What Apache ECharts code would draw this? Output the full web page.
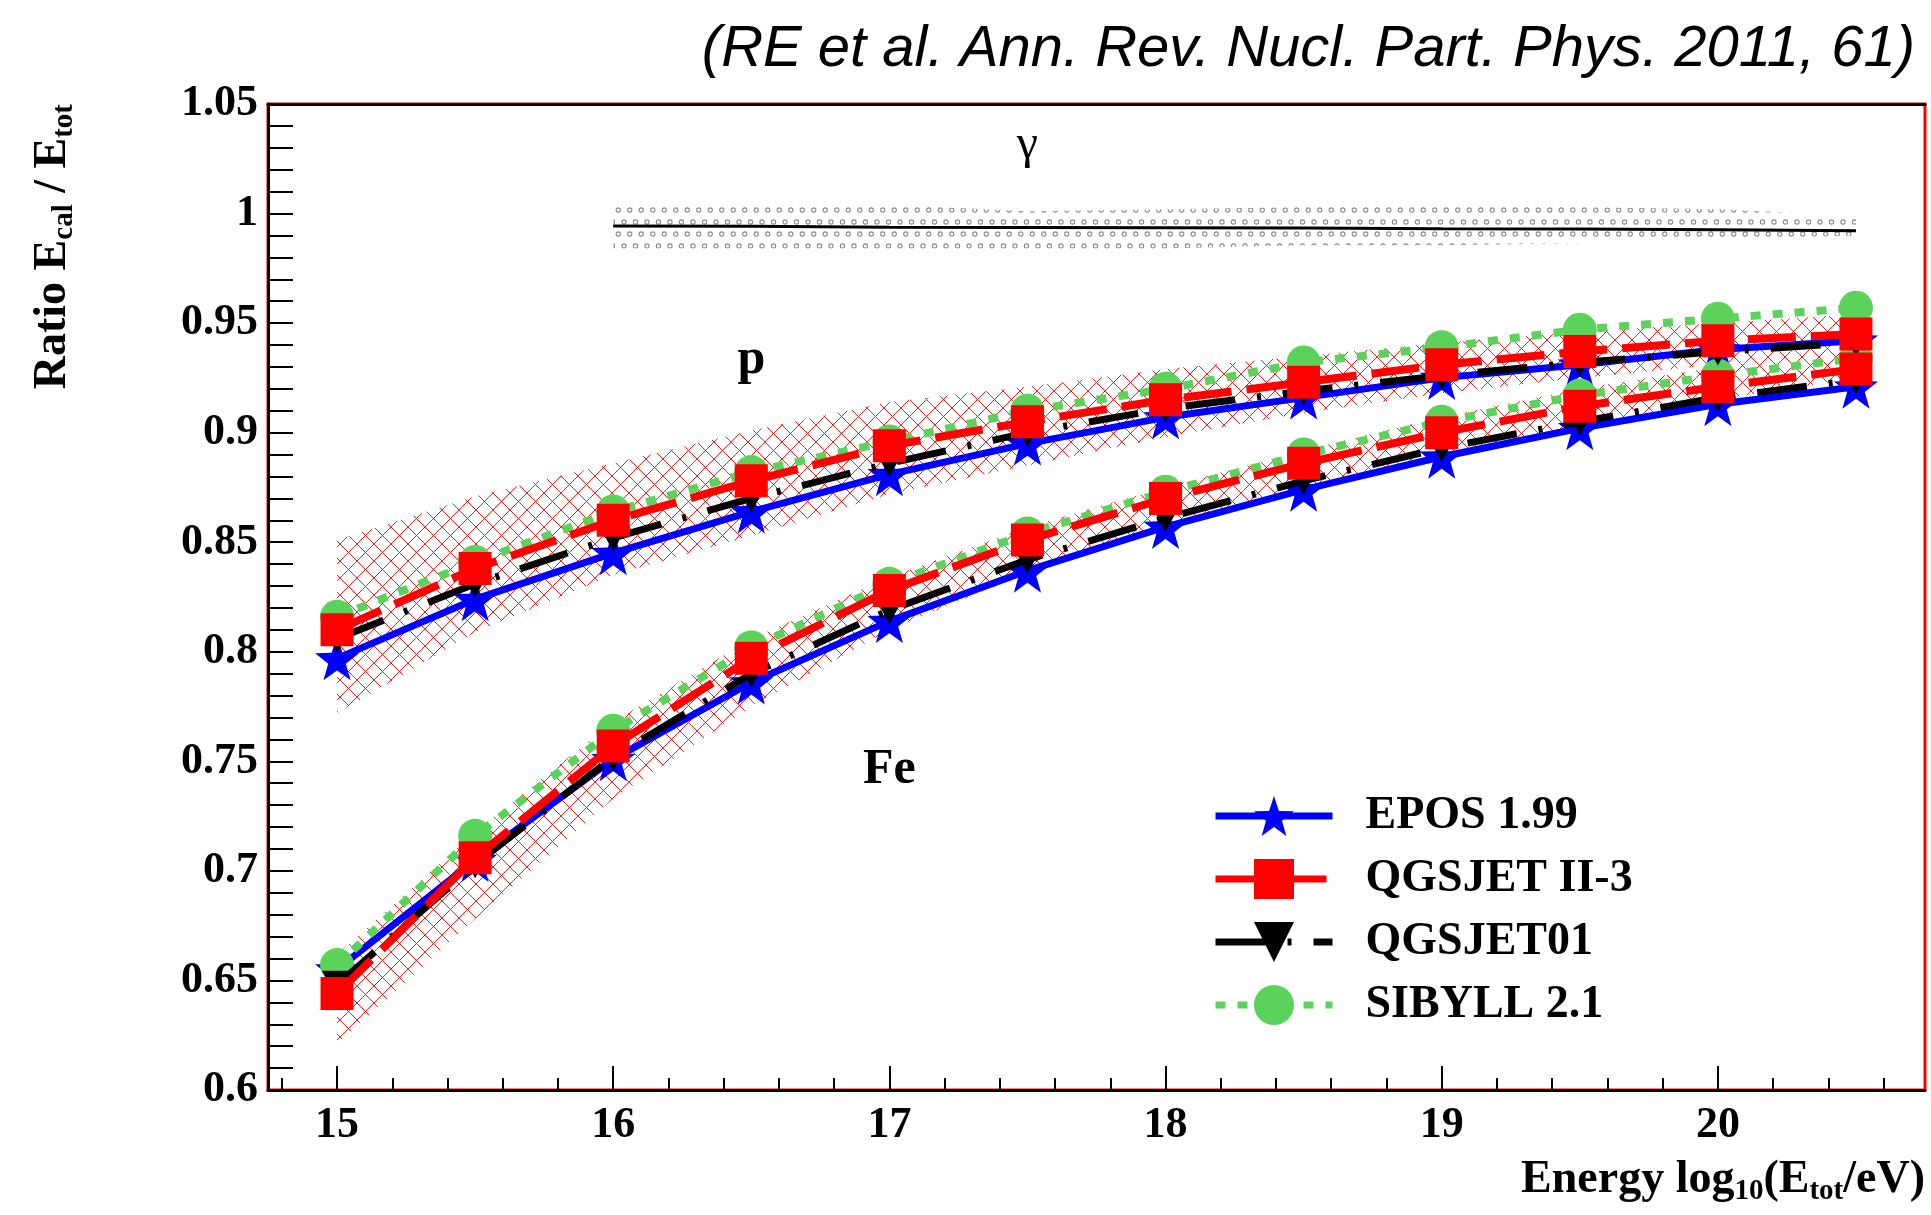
<!DOCTYPE html>
<html><head><meta charset="utf-8">
<script src="https://cdn.jsdelivr.net/npm/echarts@6/dist/echarts.min.js"></script>
<style>html,body{margin:0;padding:0;background:#fff}#c{width:1931px;height:1215px}</style>
</head><body><div id="c"></div>
<script>
// ---------- data ----------
const energy = [15, 15.5, 16, 16.5, 17, 17.5, 18, 18.5, 19, 19.5, 20, 20.5];
const eposP     = [0.797, 0.824, 0.845, 0.864, 0.881, 0.895, 0.907, 0.916, 0.925, 0.931, 0.938, 0.942];
const qgsjet2P  = [0.810, 0.838, 0.860, 0.878, 0.894, 0.905, 0.915, 0.923, 0.931, 0.937, 0.942, 0.945];
const qgsjet01P = [0.806, 0.831, 0.852, 0.870, 0.886, 0.900, 0.911, 0.919, 0.926, 0.932, 0.937, 0.941];
const sibyllP   = [0.816, 0.841, 0.864, 0.882, 0.896, 0.910, 0.920, 0.932, 0.939, 0.947, 0.952, 0.957];
const eposFe     = [0.655, 0.705, 0.751, 0.786, 0.814, 0.837, 0.857, 0.874, 0.889, 0.902, 0.913, 0.921];
const qgsjet2Fe  = [0.644, 0.706, 0.757, 0.797, 0.828, 0.851, 0.870, 0.886, 0.900, 0.912, 0.921, 0.929];
const qgsjet01Fe = [0.648, 0.703, 0.752, 0.790, 0.819, 0.842, 0.861, 0.878, 0.893, 0.905, 0.916, 0.924];
const sibyllFe   = [0.657, 0.716, 0.764, 0.802, 0.831, 0.854, 0.873, 0.890, 0.905, 0.917, 0.926, 0.934];
// hatched uncertainty bands
const pBandHi  = [0.851, 0.871, 0.886, 0.901, 0.914, 0.921, 0.929, 0.935, 0.941, 0.946, 0.950, 0.954];
const pBandLo  = [0.772, 0.809, 0.835, 0.853, 0.872, 0.885, 0.898, 0.909, 0.918, 0.925, 0.931, 0.935];
const feBandHi = [0.662, 0.718, 0.768, 0.806, 0.834, 0.857, 0.875, 0.892, 0.907, 0.920, 0.930, 0.939];
const feBandLo = [0.621, 0.678, 0.733, 0.775, 0.810, 0.836, 0.856, 0.874, 0.890, 0.903, 0.915, 0.925];
// photon
const gammaE    = [16, 16.5, 17, 17.5, 18, 18.5, 19, 19.5, 20, 20.5];
const gammaMean = [0.9943, 0.9942, 0.9937, 0.9936, 0.9935, 0.9934, 0.9931, 0.9930, 0.9926, 0.9922];
const gammaHi   = [1.005, 1.005, 1.004, 1.001, 1.002, 1.003, 1.003, 1.003, 1.002, 0.999];
const gammaLo   = [0.984, 0.984, 0.984, 0.984, 0.984, 0.9855, 0.9855, 0.9865, 0.988, 0.990];
// ticks / labels
const xMajorTicks = [15, 16, 17, 18, 19, 20];
const xMinorTicks = [14.8, 15.2, 15.4, 15.6, 15.8, 16.2, 16.4, 16.6, 16.8, 17.2, 17.4, 17.6, 17.8,
  18.2, 18.4, 18.6, 18.8, 19.2, 19.4, 19.6, 19.8, 20.2, 20.4, 20.6];
const modelNames = ['EPOS 1.99', 'QGSJET II-3', 'QGSJET01', 'SIBYLL 2.1'];
const annotations = [
  { text: 'γ', x: 17.5, y: 1.031, bold: false },
  { text: 'p', x: 16.5, y: 0.933, bold: true },
  { text: 'Fe', x: 17.0, y: 0.746, bold: true }
];
const titleText = '(RE et al. Ann. Rev. Nucl. Part. Phys. 2011, 61)';

// ---------- styles ----------
const SERIF = "'Liberation Serif','Times New Roman',serif";
const SANS = "'Liberation Sans',Arial,sans-serif";
const BLUE = '#0000ff', RED = '#ff0000', BLACK = '#000000', GREEN = '#5bd35b';
const STAR = 'path://M0,-10 L2.35,-3.24 L9.51,-3.09 L3.80,1.24 L5.88,8.09 L0,4 L-5.88,8.09 L-3.80,1.24 L-9.51,-3.09 L-2.35,-3.24 Z';

function hatchPattern() {
  const s = 17, c = document.createElement('canvas');
  c.width = s; c.height = s;
  const g = c.getContext('2d');
  g.strokeStyle = RED; g.lineWidth = 0.9;
  g.beginPath(); g.moveTo(0, 0); g.lineTo(s, s); g.moveTo(s, 0); g.lineTo(0, s); g.stroke();
  return c;
}
function dotPattern() {
  const w = 11.5, h = 24, c = document.createElement('canvas');
  c.width = Math.round(w * 2); c.height = h;
  const g = c.getContext('2d');
  g.strokeStyle = '#8a8a8a'; g.lineWidth = 1.1;
  const pts = [[3, 6], [3 + w, 6], [3 + w / 2, 18], [3 + 1.5 * w, 18]];
  pts.forEach(p => { g.beginPath(); g.arc(p[0], p[1], 2.1, 0, Math.PI * 2); g.stroke(); });
  return c;
}

function pairs(xs, ys) { return xs.map((x, i) => [x, ys[i]]); }

function bandSeries(xs, lo, hi, fill, z) {
  return {
    type: 'custom', silent: true, z: z, clip: true,
    data: xs.map((x, i) => [x, lo[i], hi[i]]),
    renderItem: function (params, api) {
      if (params.dataIndex !== 0) return null;
      const pts = [];
      for (let i = 0; i < xs.length; i++) pts.push(api.coord([xs[i], hi[i]]));
      for (let i = xs.length - 1; i >= 0; i--) pts.push(api.coord([xs[i], lo[i]]));
      return { type: 'polygon', shape: { points: pts }, style: { fill: fill, stroke: null } };
    }
  };
}

function modelSeries(name, ys, color, symbol, size, rotate, lineType, width, z) {
  return {
    name: name, type: 'line', z: z, data: pairs(energy, ys),
    symbol: symbol, symbolSize: size, symbolRotate: rotate, showAllSymbol: true,
    itemStyle: { color: color, borderWidth: 0 },
    lineStyle: { color: color, width: width, type: lineType, cap: 'butt' },
    emphasis: { disabled: true }, animation: false
  };
}

const hatchFill = { image: hatchPattern(), repeat: 'repeat' };
const dotFill = { image: dotPattern(), repeat: 'repeat' };

const series = [
  bandSeries(gammaE, gammaLo, gammaHi, dotFill, 1),
  bandSeries(energy, pBandLo, pBandHi, hatchFill, 1),
  bandSeries(energy, feBandLo, feBandHi, hatchFill, 1),
  {
    type: 'line', z: 2, data: pairs(gammaE, gammaMean), symbol: 'none',
    lineStyle: { color: BLACK, width: 3 }, silent: true, animation: false
  },
  modelSeries(modelNames[0], eposP, BLUE, STAR, 44, 0, 'solid', 7, 3),
  modelSeries(modelNames[0], eposFe, BLUE, STAR, 44, 0, 'solid', 7, 3),
  modelSeries(modelNames[3], sibyllP, GREEN, 'circle', 34, 0, [10, 12], 8, 4),
  modelSeries(modelNames[3], sibyllFe, GREEN, 'circle', 34, 0, [10, 12], 8, 4),
  modelSeries(modelNames[2], qgsjet01P, BLACK, 'triangle', [30, 28], 180, [50, 22, 4, 22], 7, 5),
  modelSeries(modelNames[2], qgsjet01Fe, BLACK, 'triangle', [30, 28], 180, [50, 22, 4, 22], 7, 5),
  modelSeries(modelNames[1], qgsjet2P, RED, 'rect', 33, 0, [48, 15], 8, 6),
  modelSeries(modelNames[1], qgsjet2Fe, RED, 'rect', 33, 0, [48, 15], 8, 6),
  {
    type: 'scatter', z: 7, symbolSize: 0, silent: true, animation: false,
    itemStyle: { opacity: 1 },
    data: annotations.map(a => ({
      value: [a.x, a.y],
      label: {
        show: true, position: 'inside', formatter: a.text, opacity: 1,
        fontFamily: SERIF, fontSize: a.bold ? 50 : 48, fontWeight: a.bold ? 'bold' : 'normal', color: BLACK,
        textBorderWidth: 0
      }
    }))
  }
];

const chart = echarts.init(document.getElementById('c'), null, { renderer: 'canvas' });
chart.setOption({
  animation: false,
  backgroundColor: '#ffffff',
  grid: { left: 268, right: 6, top: 104, bottom: 125, show: true, borderColor: RED, borderWidth: 3, backgroundColor: 'transparent' },
  xAxis: [
    {
      type: 'value', min: 14.75, max: 20.75, position: 'bottom',
      axisLine: { show: true, onZero: false, lineStyle: { color: BLACK, width: 3 } },
      axisTick: { show: true, inside: true, length: 24, customValues: xMajorTicks, lineStyle: { color: BLACK, width: 2 } },
      axisLabel: { customValues: xMajorTicks, margin: 14, fontFamily: SERIF, fontWeight: 'bold', fontSize: 44, color: BLACK },
      splitLine: { show: false }
    },
    {
      type: 'value', min: 14.75, max: 20.75, position: 'bottom',
      axisLine: { show: false },
      axisTick: { show: true, inside: true, length: 12, customValues: xMinorTicks, lineStyle: { color: BLACK, width: 2 } },
      axisLabel: { show: false }, splitLine: { show: false }
    },
    {
      type: 'value', min: 14.75, max: 20.75, position: 'top',
      axisLine: { show: true, onZero: false, lineStyle: { color: BLACK, width: 3 } },
      axisTick: { show: false }, axisLabel: { show: false }, splitLine: { show: false }
    }
  ],
  yAxis: {
    type: 'value', min: 0.6, max: 1.05, interval: 0.05,
    axisLine: { show: true, onZero: false, lineStyle: { color: BLACK, width: 3 } },
    axisTick: { show: true, inside: true, length: 25, lineStyle: { color: BLACK, width: 2 } },
    minorTick: { show: true, splitNumber: 5, length: 25, lineStyle: { color: BLACK, width: 2 } },
    axisLabel: { margin: 10, fontFamily: SERIF, fontWeight: 'bold', fontSize: 44, color: BLACK,
      formatter: v => String(Math.round(v * 100) / 100) },
    splitLine: { show: false }
  },
  legend: {
    data: modelNames, orient: 'vertical', left: 1207, top: 788,
    itemWidth: 117, itemHeight: 50, itemGap: 17,
    lineStyle: { width: 7 },
    textStyle: { fontFamily: SERIF, fontWeight: 'bold', fontSize: 46, color: BLACK, padding: [0, 0, 0, 28] },
    selectedMode: false
  },
  graphic: [
    {
      type: 'text', x: 1915, y: 50,
      style: { text: titleText, font: 'italic 58px ' + SANS, fill: BLACK, align: 'right', verticalAlign: 'middle' }
    },
    {
      type: 'text', x: 53, y: 104, rotation: Math.PI / 2,
      style: {
        text: 'Ratio E{s|cal} / E{s|tot}', align: 'right', verticalAlign: 'middle',
        fontFamily: SERIF, fontWeight: 'bold', fontSize: 46, fill: BLACK,
        rich: { s: { fontFamily: SERIF, fontWeight: 'bold', fontSize: 29, padding: [23, 0, 0, 0], fill: BLACK } }
      }
    },
    {
      type: 'text', x: 1925, y: 1180,
      style: {
        text: 'Energy log{s|10}(E{s|tot}/eV)', align: 'right', verticalAlign: 'middle',
        fontFamily: SERIF, fontWeight: 'bold', fontSize: 46, fill: BLACK,
        rich: { s: { fontFamily: SERIF, fontWeight: 'bold', fontSize: 29, padding: [23, 0, 0, 0], fill: BLACK } }
      }
    }
  ],
  series: series
});
</script></body></html>
